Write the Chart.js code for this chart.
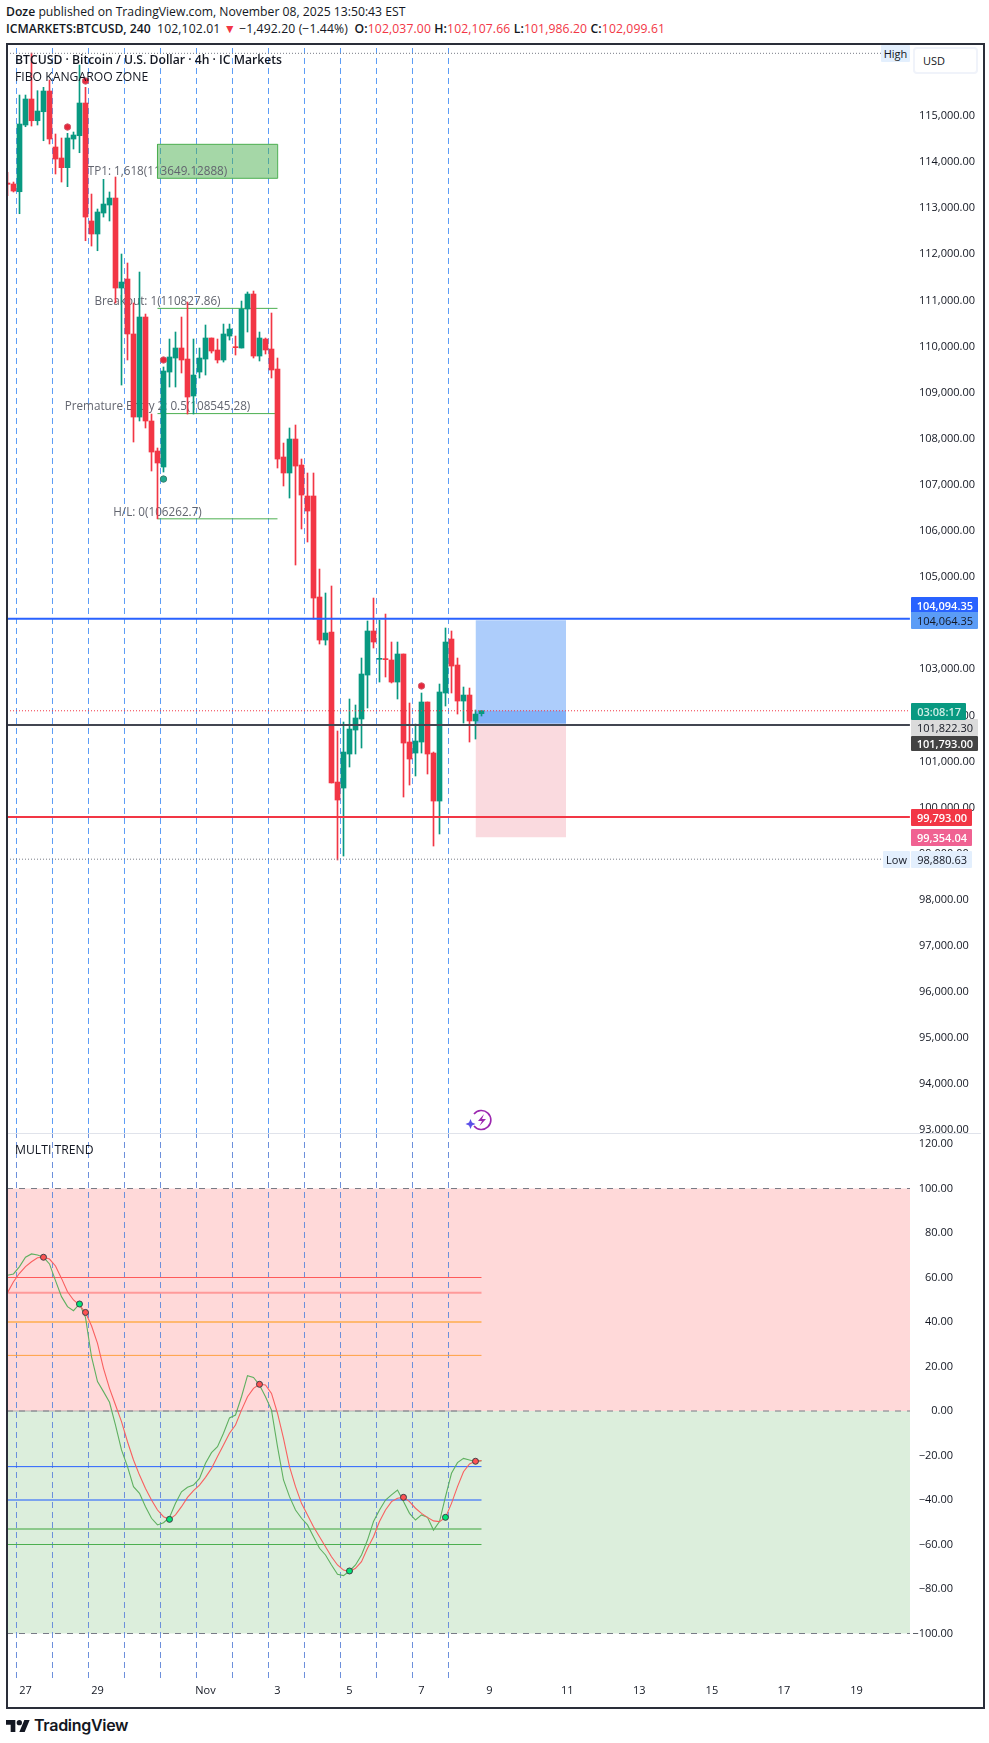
<!DOCTYPE html>
<html><head><meta charset="utf-8">
<script src="https://cdn.jsdelivr.net/npm/chart.js@4/dist/chart.umd.js"></script>
<style>
html,body{margin:0;padding:0;background:#fff;width:989px;height:1743px;overflow:hidden;font-family:"Open Sans",sans-serif;color:#131722}
.t{position:absolute;white-space:nowrap;line-height:1}
canvas{position:absolute;display:block}
.tag{position:absolute;font-size:11px;line-height:1;display:flex;align-items:center;justify-content:flex-end;box-sizing:border-box;padding-right:5px;border-radius:1px}
b{font-weight:600}
.r{color:#F23645}
</style></head><body>
<div class="t" style="left:6px;top:6px;font-size:12.2px"><b>Doze</b> published on TradingView.com, November 08, 2025 13:50:43 EST</div>
<div class="t" style="left:6px;top:23px;font-size:12.2px"><b>ICMARKETS:BTCUSD, 240</b>&nbsp; <span style="letter-spacing:.12px">102,102.01 <span class="r">▼</span> −1,492.20 (−1.44%)&nbsp; <b>O:</b><span class="r">102,037.00</span>&nbsp;<b>H:</b><span class="r">102,107.66</span>&nbsp;<b>L:</b><span class="r">101,986.20</span>&nbsp;<b>C:</b><span class="r">102,099.61</span></span></div>
<canvas id="main" width="975" height="1090" style="left:7px;top:44px;width:975px;height:1090px"></canvas>
<canvas id="osc" width="975" height="572" style="left:7px;top:1134px;width:975px;height:572px"></canvas>
<div style="position:absolute;left:6px;top:43px;width:975px;height:1662px;border:2px solid #2a2e39;pointer-events:none"></div>
<div style="position:absolute;left:8px;top:1133px;width:973px;height:1px;background:#e0e3eb"></div>
<div class="t" style="left:15px;top:54px;font-size:12.2px;font-weight:600">BTCUSD · Bitcoin / U.S. Dollar · 4h · IC Markets</div>
<div class="t" style="left:15px;top:71px;font-size:12.2px">FIBO KANGAROO ZONE</div>
<div class="t" style="left:15px;top:1144px;font-size:12.2px">MULTI TREND</div>
<div class="tag" style="left:881px;top:45px;width:29px;height:17px;background:#e3effd;justify-content:center;padding:0">High</div>
<div style="position:absolute;left:913px;top:47px;width:65px;height:27px;background:#fff;border:2px solid #f0f3fa;border-radius:4px;box-sizing:border-box;font-size:11px;line-height:23px;padding-left:8px">USD</div>
<div class="tag" style="left:911px;top:597px;width:67px;height:16px;background:#2962ff;color:#fff;font-weight:600">104,094.35</div>
<div class="tag" style="left:911px;top:612px;width:67px;height:17px;background:#5b9cf6">104,064.35</div>
<div class="tag" style="left:911px;top:719px;width:67px;height:17px;background:#dbdbdb">101,822.30</div>
<div class="tag" style="left:911px;top:703px;width:55px;height:17px;background:#089981;color:#cfeee6;font-weight:600">03:08:17</div>
<div class="tag" style="left:911px;top:736px;width:67px;height:15px;background:#434343;color:#fff;font-weight:600">101,793.00</div>
<div class="tag" style="left:911px;top:809px;width:61px;height:17px;background:#f23645;color:#fff;font-weight:600">99,793.00</div>
<div class="tag" style="left:911px;top:829px;width:61px;height:17px;background:#f06292;color:#fff;font-weight:600">99,354.04</div>
<div class="tag" style="left:883px;top:851px;width:27px;height:17px;background:#e3effd;justify-content:center;padding:0">Low</div>
<div class="tag" style="left:911px;top:851px;width:61px;height:17px;background:#e3effd">98,880.63</div>
<svg style="position:absolute;left:465px;top:1108px" width="32" height="26" viewBox="0 0 32 26">
<path d="M9 6 A9.5 9.5 0 1 1 9 18" fill="none" stroke="#9c27b0" stroke-width="1.6"/>
<path d="M19 6 L13 13 H17 L14.5 18 L21 11 H17 Z" fill="#9c27b0"/>
<path d="M5.5 11 L7 14.5 L10.5 16 L7 17.5 L5.5 21 L4 17.5 L0.5 16 L4 14.5 Z" fill="#5b4fe8"/>
</svg>
<svg style="position:absolute;left:6px;top:1719px" width="24" height="14" viewBox="0 4 36 18"><path d="M14 22H7V11H0V4h14v18zM28 22h-8l7.5-18h8L28 22z" fill="#131722"/><circle cx="20" cy="8" r="4" fill="#131722"/></svg>
<div class="t" style="left:34px;top:1717px;font-size:16px;font-weight:600;font-family:Inter,sans-serif;letter-spacing:-.3px">TradingView</div>
<script>
const opens=[113547,113525,113358,114805,115369,114898,115093,115542,114328,114089,113879,114501,114573,115282,112723,112441,112896,113070,113221,111269,111465,110272,108471,110640,108385,107734,107387,109447,109751,109968,109729,108927,109447,109729,110185,109925,109708,110228,109990,109968,110814,111139,109794,110163,109946,109512,107604,107257,107994,107430,106758,106758,104567,103634,103808,100554,100424,101162,101682,101921,102875,103830,103216,103226,103201,102723,103331,101422,101183,101422,102290,101183,100142,102485,103656,103092,102311,102441,101878,102037];
const highs=[113779,113568,115455,115455,116366,115549,115622,115781,114610,114523,114625,114653,116106,115622,113308,112983,113627,113352,113677,112007,111812,110944,111616,110705,108536,107799,109556,110163,110315,110640,110966,110163,109968,110467,110185,110163,110488,110488,110228,110987,111183,111204,110315,110185,110727,109751,107907,108233,108298,107560,107257,107257,105174,104654,104806,101661,101856,102355,102225,103244,104047,104545,104068,104198,103591,103591,103331,102268,101812,102485,102290,101205,102680,103895,103830,103244,102615,102593,102116,102107.66];
const lows=[113271,113352,112881,114768,114783,114805,114464,114393,113742,113568,113467,114284,114204,112295,112180,112078,112809,112723,110944,109165,109708,107929,108385,108233,107300,106263,107278,109122,109122,109426,108536,108536,109317,109382,109859,109643,109664,110141,109816,109968,110315,109751,109686,109838,109317,107365,106975,106714,105261,106042,105760,104090,103548,103526,100533,98863,98949,100880,101162,101292,102160,103461,102723,102832,102702,102355,100229,100489,100685,101183,100728,99166,99427,102203,102485,102029,101834,101422,101487,101986.2];
const closes=[113519,113373,114826,115369,114898,115108,115542,114501,114067,113879,114523,114588,115282,112809,112441,112918,113091,113221,111269,111399,110272,108471,110640,108385,107712,107474,109469,109773,109968,109708,108905,109382,109751,110185,109903,109708,110272,110380,109975,110814,111139,109794,110185,109925,109491,107560,107257,107994,107408,106779,106432,104545,103634,103786,100533,100164,101205,101704,101943,102897,103830,103591,103226,103209,102723,103331,101400,101053,101444,102290,101162,100142,102507,103591,103070,102311,102441,101878,102029,102099.61];
const fastLine=[61.0,61.6,64.9,69.1,70.6,70.1,69.1,66.1,58.6,51.4,46.9,45.1,48.1,42.1,24.4,13.2,8.7,3.9,-6.3,-17.5,-25.0,-34.0,-37.0,-43.0,-48.2,-51.2,-50.2,-47.8,-41.5,-36.3,-34.3,-33.3,-30.3,-23.5,-18.7,-16.0,-10.0,-3.1,-1.8,6.4,15.9,15.1,11.7,6.4,0.4,-16.0,-31.0,-38.5,-44.5,-48.2,-51.2,-56.5,-61.7,-64.7,-69.2,-73.4,-74.0,-71.9,-69.2,-64.7,-58.0,-49.7,-44.5,-40.0,-37.7,-35.5,-40.7,-46.0,-49.0,-46.7,-47.8,-53.5,-49.7,-38.5,-28.0,-23.2,-21.3,-22.0,-22.8,-22.3];
const slowLine=[53.2,58.1,61.9,64.9,67.1,68.9,69.1,68.3,65.2,59.6,53.6,49.9,47.6,44.3,38.3,30.4,19.2,10.2,2.7,-4.8,-13.8,-22.0,-28.8,-34.8,-40.0,-44.5,-47.5,-48.7,-46.7,-43.0,-38.8,-35.8,-33.3,-29.8,-25.8,-20.5,-15.3,-10.0,-6.3,0.4,6.4,10.2,12.0,11.7,7.9,-1.0,-12.3,-25.0,-34.0,-41.5,-46.7,-52.0,-56.5,-61.0,-65.5,-69.2,-71.5,-72.2,-70.7,-67.7,-61.7,-56.5,-49.7,-44.5,-40.7,-39.2,-38.8,-40.7,-43.7,-46.0,-47.8,-49.4,-49.7,-47.8,-41.5,-34.0,-27.3,-23.8,-22.6,-22.3];
const redDotsMain=[{x:10,y:114761},{x:13,y:115759},{x:26,y:109708},{x:69,y:102637}];
const greenDotsMain=[{x:26,y:107126}];
const redDotsOsc=[{x:6,y:69.1},{x:13,y:44.3},{x:42,y:12.0},{x:66,y:-38.8},{x:78,y:-22.6}];
const greenDotsOsc=[{x:12,y:48.1},{x:27,y:-48.7},{x:57,y:-71.9},{x:73,y:-47.8}];
const dashIdx=[1.5,7.5,13.5,19.5,25.5,31.5,37.5,43.5,49.5,55.5,61.5,67.5,73.5];
const fibPrices=[110827.86,108545.28,106262.7];
const fibLabels=["TP1: 1,618(113649.12888)","Breakout: 1(110827.86)","Premature Entry 2: 0.5(108545.28)","H/L: 0(106262.7)"];
const fibLabelPrices=[113649.13,110827.86,108545.28,106262.7];
const priceTicks=[93000,94000,95000,96000,97000,98000,99000,100000,101000,102000,103000,104000,105000,106000,107000,108000,109000,110000,111000,112000,113000,114000,115000];
const oscTicks=[-100,-80,-60,-40,-20,0,20,40,60,80,100,120];
const timeIdx=[3,15,33,45,57,69,80.3,93.3,105.3,117.4,129.4,141.5];
const timeLabels=["27","29","Nov","3","5","7","9","11","13","15","17","19"];
const oscLevels=[60,53.2,40,25,-25,-40,-53,-60];
const oscLevelColors=["#ff5a5a","#ff9a9a","#ffb870","#ffa040","#2962ff","#7ba3ee","#8cc98c","#4caf50"];
const oscLevelWidths=[1,2,2,1,1,2,2,1];

Chart.defaults.font.family='"Open Sans",sans-serif';
const XMIN=-0.0833,XMAX=150.4167,N=opens.length;
const idx=opens.map((_,i)=>i);
function up(i){return closes[i]>=opens[i]}
const candleCol=idx.map(i=>up(i)?'#089981':'#f23645');
function seg(x0,x1,y,color,w,dash,order){return{type:'line',data:[{x:x0,y},{x:x1,y}],borderColor:color,borderWidth:w,borderDash:dash||[],pointRadius:0,order:order,tension:0}}
function band(x0,x1,lo,hi,color,order,id){return{type:'line',id,data:[{x:x0,y:lo},{x:x1,y:lo}],borderWidth:0,borderColor:'transparent',backgroundColor:color,fill:{value:hi},pointRadius:0,order}}
function outline(x0,x1,lo,hi,color,order){return{type:'line',data:[{x:x0,y:lo},{x:x1,y:lo},{x:x1,y:hi},{x:x0,y:hi},{x:x0,y:lo}],borderColor:color,borderWidth:1,pointRadius:0,order,tension:0}}
function vdash(k,a,b,color){return{type:'line',data:[{x:k,y:a},{x:k,y:b}],borderColor:color,borderWidth:1,borderDash:[6,4],pointRadius:0,order:50}}
function dots(d,col,r,bc,order){return{type:'line',data:d,showLine:false,pointRadius:r,pointBackgroundColor:col,pointBorderColor:bc,pointBorderWidth:1,order}}
const YMIN=92920,YMAX=116562;
const fibText={id:'fibText',afterDatasetDraw(chart,args){
  const ds=chart.data.datasets[args.index];
  if(ds.id!=='tpBox')return;
  const c=chart.ctx,X=chart.scales.x,Y=chart.scales.y;
  c.save();c.font='11.7px "Open Sans",sans-serif';c.fillStyle='#62656f';c.textAlign='center';c.textBaseline='middle';
  fibLabels.forEach((s,i)=>c.fillText(s,X.getPixelForValue(25),Y.getPixelForValue(fibLabelPrices[i])-6.5));
  c.restore();
}};
const base={responsive:false,animation:false,devicePixelRatio:1,plugins:{legend:{display:false},tooltip:{enabled:false}}};
function noPad(s){s.paddingTop=0;s.paddingBottom=0;if(s._margins){s._margins.top=0;s._margins.bottom=0}}
new Chart(document.getElementById('main'),{type:'bar',
 data:{datasets:[
  ...dashIdx.map(k=>vdash(k,YMIN,YMAX,'#5b9cf6')),
  band(25,45.03,113649.13,114386,'rgba(76,175,80,.5)',45,'tpBox'),
  outline(25,45.03,113649.13,114386,'#4caf50',44),
  ...fibPrices.map(p=>seg(25,45,p,'#4caf50',1,[],43)),
  band(78,93.1,101822.3,104064.35,'#adcdfb',42),
  band(78,93.1,99354.04,101822.3,'#fadadf',42),
  band(78,93.1,101822.3,102099.61,'#82b1f7',41),
  {type:'bar',data:idx.map(i=>({x:i,y:[lows[i],highs[i]]})),backgroundColor:candleCol,barThickness:1,maxBarThickness:1,grouped:false,order:20},
  {type:'bar',data:idx.map(i=>({x:i,y:[opens[i],closes[i]]})),backgroundColor:candleCol,barThickness:5,maxBarThickness:5,minBarLength:1,grouped:false,order:19},
  seg(XMIN,145.6,116360,'#787b86',1,[1,2],15),
  seg(XMIN,145.6,98880.63,'#787b86',1,[1,2],15),
  seg(XMIN,150.4,102099.61,'#f23645',1,[1,2],14),
  seg(XMIN,150.4,104094.35,'#2962ff',2,[],12),
  seg(XMIN,150.4,101793,'#434651',2,[],12),
  seg(XMIN,150.4,99793,'#f23645',2,[],12),
  dots(redDotsMain,'#e5283c',3.2,'#d06070',5),
  dots(greenDotsMain,'#1fa98f',3.2,'#3a7f70',5)
 ]},
 options:{...base,layout:{padding:0,autoPadding:false},scales:{
  x:{type:'linear',display:false,min:XMIN,max:XMAX,offset:false,grid:{offset:false}},
  y:{position:'right',min:YMIN,max:YMAX,offset:false,afterFit(s){s.width=72;noPad(s)},
     afterBuildTicks(s){s.ticks=priceTicks.map(v=>({value:v}))},
     grid:{display:false,drawTicks:false,offset:false},border:{display:false},
     ticks:{padding:9,crossAlign:'near',color:'#131722',font:{size:11},autoSkip:false,
       callback:v=>Number(v).toLocaleString('en-US',{minimumFractionDigits:2,maximumFractionDigits:2})}}
 }},
 plugins:[fibText]
});
const OMIN=-120,OMAX=124.5;
new Chart(document.getElementById('osc'),{type:'bar',
 data:{datasets:[
  band(XMIN,XMAX,0,100,'#ffd9d9',70),
  band(XMIN,XMAX,-100,0,'#dceedc',70),
  ...dashIdx.map(k=>vdash(k,OMIN,OMAX,'#6c8fdb')),
  seg(XMIN,XMAX,100,'#787b86',1,[6,6],30),
  seg(XMIN,XMAX,-100,'#787b86',1,[6,6],30),
  seg(XMIN,XMAX,0,'#787b86',1,[6,6],30),
  seg(XMIN,79,0,'rgba(120,123,134,.5)',1,[],29),
  ...oscLevels.map((v,i)=>seg(XMIN,79,v,oscLevelColors[i],oscLevelWidths[i],[],28)),
  {type:'line',data:idx.map(i=>({x:i,y:fastLine[i]})),borderColor:'#5fb060',borderWidth:1.1,pointRadius:0,tension:0,order:20},
  {type:'line',data:idx.map(i=>({x:i,y:slowLine[i]})),borderColor:'#f96060',borderWidth:1.1,pointRadius:0,tension:0,order:19},
  dots(redDotsOsc,'#ff5252',3,'#3f3f46',5),
  dots(greenDotsOsc,'#00e676',3,'#3f3f46',5)
 ]},
 options:{...base,layout:{padding:{left:0,top:0,bottom:0,right:29},autoPadding:false},scales:{
  x:{type:'linear',min:XMIN,max:XMAX,offset:false,afterFit(s){s.height=28},
     afterBuildTicks(s){s.ticks=timeIdx.map(v=>({value:v}))},
     grid:{display:false,drawTicks:false,offset:false},border:{display:false},
     ticks:{padding:6,color:'#131722',font:{size:11},autoSkip:false,maxRotation:0,minRotation:0,
       callback:(v,i)=>timeLabels[i]}},
  y:{position:'right',min:OMIN,max:OMAX,offset:false,afterFit(s){s.width=43;noPad(s)},
     afterBuildTicks(s){s.ticks=oscTicks.map(v=>({value:v}))},
     grid:{display:false,drawTicks:false,offset:false},border:{display:false},
     ticks:{padding:5,crossAlign:'far',color:'#131722',font:{size:11},autoSkip:false,
       callback:v=>(v<0?'−':'')+Math.abs(v).toFixed(2)}}
 }}
});
</script>
</body></html>
